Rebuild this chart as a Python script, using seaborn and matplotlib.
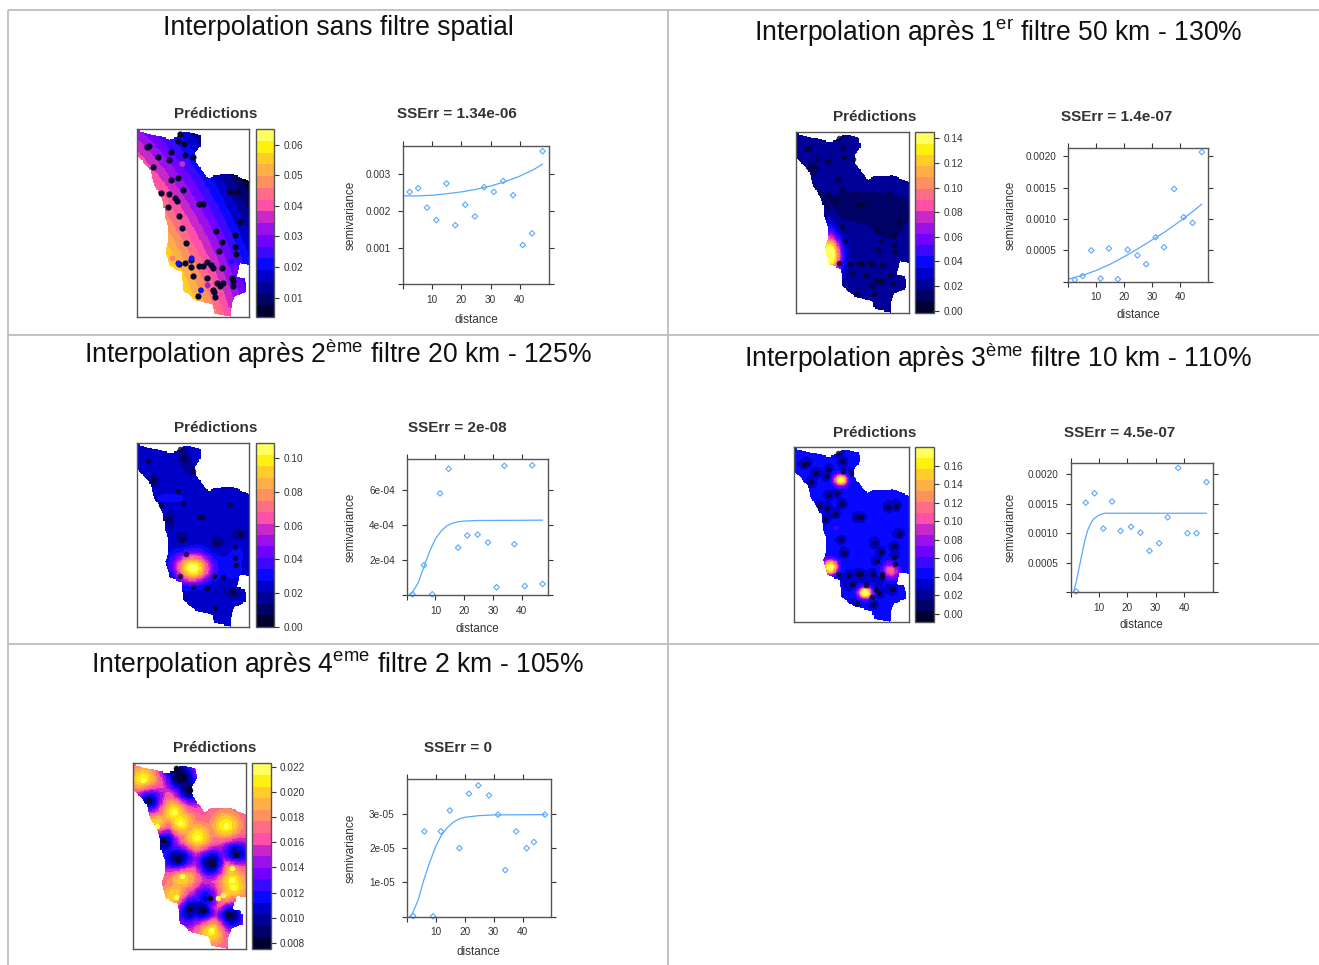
import matplotlib
matplotlib.use("Agg")
import matplotlib.pyplot as plt
import numpy as np
import pandas as pd
import seaborn as sns
from matplotlib.colors import ListedColormap
from matplotlib.path import Path as MplPath

sns.set_theme(style="white")
plt.rcParams["font.family"] = ["Liberation Sans", "DejaVu Sans"]
plt.rcParams["mathtext.fontset"] = "custom"
plt.rcParams["mathtext.rm"] = "Liberation Sans"
plt.rcParams["mathtext.it"] = "Liberation Sans"
plt.rcParams["mathtext.bf"] = "Liberation Sans:bold"

W, H = 1319, 965
INK = "#333333"
FRAME = "#555555"
BLUE = "#5aa8ff"

# ---- colour bands, bottom to top ----
band_colors = ["#00002e", "#000066", "#000098", "#0000c8", "#0808ff", "#3a08ff", "#7000ff", "#9a10ea",
               "#c828c8", "#ff50a8", "#ff6c88", "#ff9060", "#ffae48", "#ffcc28", "#fff010", "#ffff60"]
cmap = ListedColormap(band_colors)

# map outline, read in pixels of panel 1 (box 50-388 x 103-666 in a 3x crop)
outline = [(50, 103), (60, 108), (90, 118), (125, 125), (150, 133), (175, 125), (190, 110), (215, 112),
           (240, 120), (243, 150), (225, 175), (225, 195), (245, 225), (265, 250), (285, 240), (340, 238),
           (388, 258), (388, 510), (360, 505), (350, 545), (375, 550), (378, 590), (345, 605), (335, 625),
           (332, 665), (285, 655), (278, 630), (225, 615), (190, 585), (185, 530), (150, 515), (135, 465),
           (145, 440), (145, 395), (135, 370), (130, 320), (100, 265), (90, 225), (50, 180)]

# ---- titles ----
title_1 = "Interpolation sans filtre spatial"
title_2 = r"Interpolation après 1$^{\mathrm{er}}$ filtre 50 km - 130%"
title_3 = "Interpolation après 2$^{\\mathrm{ème}}$ filtre 20 km - 125%"
title_4 = "Interpolation après 3$^{\\mathrm{ème}}$ filtre 10 km - 110%"
title_5 = "Interpolation après 4$^{\\mathrm{eme}}$ filtre 2 km - 105%"

# ---- semivariogram points and fitted curves ----
dist_1 = [2.3, 5.2, 8.2, 11.4, 14.9, 17.9, 21.3, 24.6, 27.8, 31.1, 34.3, 37.7, 41.0, 44.2, 47.8]
sv_1 = [.00252, .00262, .00209, .00175, .00275, .00161, .00217, .00185, .00265, .00252, .00282, .00243, .00107, .00139, .00363]
fit_x_1 = [0, 5, 10, 15, 20, 25, 30, 35, 40, 45, 47.8]
fit_y_1 = [.00241, .00241, .00243, .00247, .00252, .00259, .00268, .00280, .00295, .00314, .00328]

dist_2 = [2.3, 5.1, 8.2, 11.5, 14.5, 17.7, 21.2, 24.7, 27.8, 31.2, 34.2, 37.8, 41.2, 44.4, 47.7]
sv_2 = [.00003, .00009, .0005, .00005, .00053, .00004, .00051, .00042, .00028, .00071, .00055, .00148, .00103, .00094, .00207]
fit_x_2 = [0, 5, 10, 15, 20, 25, 30, 35, 40, 45, 47.7]
fit_y_2 = [.00004, .0001, .00018, .00028, .0004, .00053, .00067, .00081, .00097, .00114, .00124]

dist_3 = [2.0, 6.0, 8.9, 11.6, 14.6, 17.9, 21.1, 24.7, 28.3, 31.3, 34.0, 37.5, 41.1, 43.7, 47.3]
sv_3 = [4e-6, 1.7e-4, 4e-6, 5.8e-4, 7.2e-4, 2.7e-4, 3.4e-4, 3.45e-4, 3.0e-4, 4.4e-5, 7.37e-4, 2.9e-4, 5.1e-5, 7.4e-4, 6.3e-5]
fit_x_3 = [1, 2, 4, 6, 8, 10, 12, 14, 16, 18, 20, 25, 47.3]
fit_y_3 = [0, 1.5e-5, 7e-5, 1.6e-4, 2.5e-4, 3.2e-4, 3.65e-4, 3.95e-4, 4.1e-4, 4.18e-4, 4.22e-4, 4.25e-4, 4.27e-4]

dist_4 = [1.9, 5.3, 8.4, 11.5, 14.6, 17.6, 21.3, 24.6, 27.8, 31.2, 34.2, 37.9, 41.2, 44.4, 47.9]
sv_4 = [.00001, .00152, .00168, .00108, .00154, .00104, .00111, .00101, .0007, .00083, .00127, .00211, .001, .001, .00187]
fit_x_4 = [1, 2, 3, 4, 5, 6, 7, 8, 10, 12, 47.9]
fit_y_4 = [0, .00018, .00042, .00065, .00088, .00105, .00116, .00124, .00131, .00134, .00134]

dist_5 = [2.2, 6.1, 9.1, 11.8, 14.9, 18.2, 21.5, 24.7, 28.4, 31.5, 34.0, 37.8, 41.4, 43.9, 47.7]
sv_5 = [2e-7, 2.49e-5, 1e-7, 2.49e-5, 3.1e-5, 2e-5, 3.59e-5, 3.83e-5, 3.54e-5, 2.98e-5, 1.36e-5, 2.49e-5, 2e-5, 2.18e-5, 2.98e-5]
fit_x_5 = [1, 2, 4, 6, 8, 10, 12, 14, 16, 18, 20, 25, 30, 47.7]
fit_y_5 = [0, 1e-6, 5e-6, 1.1e-5, 1.6e-5, 2.05e-5, 2.38e-5, 2.6e-5, 2.75e-5, 2.85e-5, 2.9e-5, 2.95e-5, 2.97e-5, 2.98e-5]

# ---- stations, in pixels of the 3x crop of each panel ----
stations_1 = [(180, 118), (175, 138), (192, 148), (80, 157), (88, 154), (114, 185), (154, 172), (147, 194), (194, 180),
              (220, 185), (100, 215), (175, 250), (154, 256), (190, 285), (124, 293), (147, 297), (165, 310), (170, 318),
              (143, 335), (238, 327), (248, 328), (329, 292), (352, 291), (176, 363), (360, 380), (187, 398), (289, 408),
              (345, 421), (197, 443), (306, 440), (345, 455), (296, 468), (348, 477), (178, 507), (195, 505), (212, 495),
              (214, 516), (238, 512), (248, 512), (260, 500), (272, 510), (280, 520), (305, 518), (220, 543), (260, 548),
              (335, 548), (340, 558), (340, 572), (290, 565), (300, 572), (310, 565), (280, 585), (282, 592), (234, 603), (284, 607)]
extra_1 = [(175, 505, "#1010ff"), (215, 490, "#1010ff"), (243, 586, "#1010ff"), (334, 500, "#1010ff"),
           (187, 207, "#c030c8"), (158, 490, "#ff8070"), (263, 571, "#a020d0")]
stations_2 = [(178, 113), (188, 140), (80, 148), (86, 145), (112, 177), (145, 184), (192, 170), (218, 177), (98, 206),
              (173, 238), (187, 271), (122, 280), (145, 284), (168, 302), (140, 320), (237, 313), (247, 315), (327, 279),
              (358, 365), (185, 380), (287, 391), (343, 404), (195, 424), (303, 422), (343, 436), (294, 449), (346, 457),
              (177, 488), (211, 493), (238, 490), (247, 492), (270, 490), (278, 495), (306, 495), (218, 520), (258, 525),
              (330, 525), (338, 548), (288, 540), (300, 545), (307, 540), (277, 558), (232, 578), (282, 582)]
stations_3 = [(180, 103), (192, 129), (85, 137), (220, 168), (100, 196), (175, 228), (190, 263), (123, 271), (143, 312),
              (240, 305), (247, 307), (329, 271), (360, 356), (187, 374), (289, 384), (345, 396), (197, 417), (345, 430),
              (348, 450), (180, 482), (282, 484), (308, 486), (220, 516), (260, 519), (338, 530), (284, 578)]
stations_4 = [(175, 98), (187, 124), (72, 132), (80, 128), (108, 160), (148, 148), (140, 168), (188, 153), (214, 159),
              (93, 186), (170, 220), (148, 226), (185, 252), (118, 259), (142, 263), (165, 281), (136, 298), (232, 291),
              (242, 292), (325, 260), (349, 257), (356, 341), (182, 357), (284, 368), (342, 379), (192, 399), (302, 397),
              (342, 410), (292, 423), (345, 431), (175, 461), (208, 466), (235, 463), (243, 463), (278, 462), (305, 463),
              (305, 472), (215, 492), (258, 495), (288, 510), (296, 520), (335, 507), (276, 530), (230, 548), (280, 552)]
stations_5 = [(167, 100), (181, 127), (209, 166), (86, 196), (129, 315), (174, 376), (278, 387), (347, 359),
              (270, 489), (207, 521), (250, 525), (328, 536)]
yellow_5 = [(70, 136), (161, 230), (111, 272), (179, 264), (232, 307), (318, 272), (185, 423), (168, 487),
            (335, 400), (335, 434), (338, 456), (295, 490), (310, 480), (273, 585)]

# ---- field readings: trend points for panel 1, bumps (x, y, amp, sx, sy) for the others ----
trend_1 = [(60, 115, .030), (60, 170, .037), (100, 215, .039), (180, 240, .032), (230, 200, .022), (210, 130, .018),
           (300, 260, .012), (380, 280, .008), (380, 400, .015), (380, 490, .022), (250, 330, .030), (150, 350, .043),
           (200, 450, .043), (300, 480, .031), (150, 470, .056), (190, 560, .056), (240, 600, .050), (320, 650, .040),
           (370, 570, .028)]
base_2 = .023
bumps_2 = [(150, 465, .135, 22, 36), (110, 465, .02, 30, 60), (240, 320, -.010, 170, 45), (330, 400, -.006, 45, 40),
           (98, 206, -.010, 18, 18), (240, 520, -.006, 22, 15), (150, 390, .012, 14, 40)]
base_3 = .0245
bumps_3 = [(218, 460, .086, 36, 30), (150, 250, .007, 30, 10), (350, 415, .007, 14, 14), (335, 460, .008, 22, 24),
           (100, 196, -.0065, 22, 22), (190, 125, -.0065, 20, 26), (215, 165, -.0065, 16, 16), (150, 310, -.0065, 15, 26),
           (187, 374, -.0065, 24, 24), (289, 384, -.0065, 24, 22), (360, 356, -.0065, 24, 18), (240, 510, -.0065, 50, 20),
           (340, 535, -.0065, 24, 16), (160, 480, -.0065, 22, 12)]
base_4 = .045
bumps_4 = [(182, 180, .15, 13, 12), (152, 442, .17, 14, 14), (256, 518, .17, 14, 12), (332, 452, .075, 17, 16),
           (170, 325, .008, 14, 14), (240, 495, -.005, 60, 22)]
halo_4 = -.012
base_5 = .0165
halo_5 = -.0072
glow_5 = .0050
bumps_5 = [(240, 370, -.0016, 130, 28), (240, 500, -.0015, 45, 28), (190, 130, -.002, 35, 40), (200, 570, -.0015, 35, 22),
           (350, 570, -.002, 30, 30), (130, 340, -.001, 22, 35)]

# ---- layout in reference pixels: map, colour bar, variogram boxes ----
panels = [
    dict(title=title_1, tx=338, ty=28, map_box=(136.7, 129.3, 249.3, 317), cbar_x=(255.7, 274.3), var_box=(403, 145.7, 549, 284.3),
         head_map=(216, 114), head_var=(457, 114), sse="SSErr = 1.34e-06", lim=(.0037, .065), ticks=[.01, .02, .03, .04, .05, .06], fmt="%.2f",
         ylim=(0, .00378), yticks=[0, .001, .002, .003], yfmt=["", "0.001", "0.002", "0.003"], xlim=(0, 50), xlab_y=320, ylab_x=351,
         crop=(50, 103, 388, 666), dist=dist_1, sv=sv_1, fx=fit_x_1, fy=fit_y_1, pts=stations_1),
    dict(title=title_2, tx=998, ty=33, map_box=(795.7, 132.3, 909.3, 312.7), cbar_x=(915, 934), var_box=(1068.3, 148.3, 1208.3, 281.7),
         head_map=(875, 117), head_var=(1117, 117), sse="SSErr = 1.4e-07", lim=(-.0016, .1448), ticks=[0, .02, .04, .06, .08, .10, .12, .14], fmt="%.2f",
         ylim=(0, .00213), yticks=[0, .0005, .001, .0015, .002], yfmt=["", "0.0005", "0.0010", "0.0015", "0.0020"], xlim=(0, 50), xlab_y=315, ylab_x=1011,
         crop=(47, 97, 388, 638), dist=dist_2, sv=sv_2, fx=fit_x_2, fy=fit_y_2, pts=stations_2),
    dict(title=title_3, tx=338, ty=354, map_box=(136.7, 443.3, 249.3, 626.7), cbar_x=(255.7, 274.3), var_box=(406.7, 459, 548.3, 595),
         head_map=(216, 428), head_var=(457, 428), sse="SSErr = 2e-08", lim=(0, .1089), ticks=[0, .02, .04, .06, .08, .10], fmt="%.2f",
         ylim=(0, 7.76e-4), yticks=[0, 2e-4, 4e-4, 6e-4], yfmt=["", "2e-04", "4e-04", "6e-04"], xlim=(0, 49.3), xlab_y=629, ylab_x=351,
         crop=(50, 85, 388, 635), dist=dist_3, sv=sv_3, fx=fit_x_3, fy=fit_y_3, pts=stations_3),
    dict(title=title_4, tx=998, ty=358, map_box=(794, 447.3, 909.3, 622.3), cbar_x=(915.3, 934), var_box=(1070.7, 462.7, 1212.7, 592),
         head_map=(875, 433), head_var=(1120, 433), sse="SSErr = 4.5e-07", lim=(-.0094, .18), ticks=[0, .02, .04, .06, .08, .10, .12, .14, .16], fmt="%.2f",
         ylim=(0, .0022), yticks=[0, .0005, .001, .0015, .002], yfmt=["", "0.0005", "0.0010", "0.0015", "0.0020"], xlim=(0, 50.1), xlab_y=625, ylab_x=1011,
         crop=(42, 82, 388, 607), dist=dist_4, sv=sv_4, fx=fit_x_4, fy=fit_y_4, pts=stations_4),
    dict(title=title_5, tx=338, ty=664, map_box=(132.7, 763.3, 246, 949), cbar_x=(252, 270.7), var_box=(406.7, 779.3, 550.7, 916.7),
         head_map=(215, 748), head_var=(458, 748), sse="SSErr = 0", lim=(.0075, .0223), ticks=[.008, .01, .012, .014, .016, .018, .02, .022], fmt="%.3f",
         ylim=(0, 4.01e-5), yticks=[0, 1e-5, 2e-5, 3e-5], yfmt=["", "1e-05", "2e-05", "3e-05"], xlim=(0, 49.7), xlab_y=952, ylab_x=351,
         crop=(38, 85, 378, 642), dist=dist_5, sv=sv_5, fx=fit_x_5, fy=fit_y_5, pts=stations_5),
]


def make_ax(fig, box):
    x0, y0, x1, y1 = box
    return fig.add_axes([x0 / W, 1 - y1 / H, (x1 - x0) / W, (y1 - y0) / H])


def gauss(X, Y, cx, cy, amp, sx, sy):
    return amp * np.exp(-0.5 * (((X - cx) / sx) ** 2 + ((Y - cy) / sy) ** 2))


def add_bumps(Z, X, Y, bumps):
    for cx, cy, amp, sx, sy in bumps:
        Z = Z + gauss(X, Y, cx, cy, amp, sx, sy)
    return Z


def make_field(i, X, Y, pts):
    # X and Y are in crop pixels of the panel
    if i == 0:
        t = np.array(trend_1)
        xs, ys = t[:, 0] / 400, t[:, 1] / 600
        A = np.c_[np.ones(len(t)), xs, ys, xs ** 2, xs * ys, ys ** 2]
        c = np.linalg.lstsq(A, t[:, 2], rcond=None)[0]
        u, v = X / 400, Y / 600
        return c[0] + c[1] * u + c[2] * v + c[3] * u ** 2 + c[4] * u * v + c[5] * v ** 2
    if i == 1:
        return add_bumps(np.full(X.shape, base_2), X, Y, bumps_2)
    if i == 2:
        return add_bumps(np.full(X.shape, base_3), X, Y, bumps_3)
    if i == 3:
        halo = np.zeros(X.shape)
        for p in pts:
            halo = np.minimum(halo, gauss(X, Y, p[0], p[1], halo_4, 18, 18))
        return add_bumps(base_4 + halo, X, Y, bumps_4)
    low = np.zeros(X.shape)
    for p in pts:
        low = np.minimum(low, gauss(X, Y, p[0], p[1], halo_5, 28, 28))
    high = np.zeros(X.shape)
    for p in yellow_5:
        high = np.maximum(high, gauss(X, Y, p[0], p[1], glow_5, 30, 30))
    return add_bumps(base_5 + low + high, X, Y, bumps_5)


fig = plt.figure(figsize=(W / 100, H / 100), dpi=100)

# table rules
rule = fig.add_axes([0, 0, 1, 1])
rule.set_xlim(0, W)
rule.set_ylim(H, 0)
rule.axis("off")
for xs, ys in [((8, 1319), (10, 10)), ((8, 8), (10, 965)), ((668, 668), (10, 965)),
               ((8, 1319), (335, 335)), ((8, 1319), (644, 644))]:
    rule.plot(xs, ys, color="#bdbdbd", lw=1.3, solid_capstyle="butt")

outline_arr = np.array(outline, dtype=float)
outline_u = (outline_arr[:, 0] - 50) / 338
outline_v = (outline_arr[:, 1] - 103) / 563
poly = MplPath(np.c_[outline_u, outline_v])

for i, p in enumerate(panels):
    fig.text(p["tx"] / W, 1 - p["ty"] / H, p["title"], fontsize=19.1, ha="center", va="center", color="#111111")
    fig.text(p["head_map"][0] / W, 1 - p["head_map"][1] / H, "Prédictions", fontsize=11, fontweight="bold", ha="center", va="center", color=INK)
    fig.text(p["head_var"][0] / W, 1 - p["head_var"][1] / H, p["sse"], fontsize=11, fontweight="bold", ha="center", va="center", color=INK)

    # map
    mb = p["map_box"]
    ax = make_ax(fig, mb)
    cax = make_ax(fig, (p["cbar_x"][0], mb[1], p["cbar_x"][1], mb[3]))
    nx, ny = int((mb[2] - mb[0]) / 1.15), int((mb[3] - mb[1]) / 1.15)
    uu, vv = np.meshgrid((np.arange(nx) + .5) / nx, (np.arange(ny) + .5) / ny)
    c0, c1, c2, c3 = p["crop"]
    X, Y = c0 + uu * (c2 - c0), c1 + vv * (c3 - c1)
    Z = make_field(i, X, Y, p["pts"])
    inside = poly.contains_points(np.c_[uu.ravel(), vv.ravel()]).reshape(uu.shape)
    sns.heatmap(Z, mask=~inside, cmap=cmap, vmin=p["lim"][0], vmax=p["lim"][1], ax=ax, cbar_ax=cax,
                xticklabels=False, yticklabels=False, cbar_kws={"ticks": p["ticks"]})
    pts = pd.DataFrame(p["pts"], columns=["x", "y"])
    pts["x"] = (pts["x"] - c0) / (c2 - c0) * nx
    pts["y"] = (pts["y"] - c1) / (c3 - c1) * ny
    dot_alpha = 1 if i in (0, 4) else 0.8
    sns.scatterplot(data=pts, x="x", y="y", ax=ax, s=20 if i == 0 else 16, color="#05052e", linewidth=0, legend=False, alpha=dot_alpha)
    if i == 0:
        ex = pd.DataFrame(extra_1, columns=["x", "y", "c"])
        ax.scatter((ex["x"] - c0) / (c2 - c0) * nx, (ex["y"] - c1) / (c3 - c1) * ny, s=18, c=ex["c"], linewidths=0)
    if i == 4:
        ye = pd.DataFrame(yellow_5, columns=["x", "y"])
        ye["x"] = (ye["x"] - c0) / (c2 - c0) * nx
        ye["y"] = (ye["y"] - c1) / (c3 - c1) * ny
        sns.scatterplot(data=ye, x="x", y="y", ax=ax, s=16, color="#ffff50", linewidth=0, legend=False)
    ax.set_xlim(0, nx)
    ax.set_ylim(ny, 0)
    ax.set_xlabel("")
    ax.set_ylabel("")
    for s in ax.spines.values():
        s.set_visible(True)
        s.set_color(FRAME)
        s.set_linewidth(1.0)

    # colour bar
    cb = ax.collections[0].colorbar
    cb.outline.set_edgecolor(FRAME)
    cb.outline.set_linewidth(1.0)
    cax.yaxis.set_ticks_position("right")
    cax.tick_params(axis="y", which="both", direction="out", length=3.6, width=.8, color=INK, labelsize=7.2, labelcolor=INK, pad=3)
    cax.minorticks_off()
    cax.set_yticks(p["ticks"])
    cax.set_yticklabels([p["fmt"] % t for t in p["ticks"]])

    # variogram
    vax = make_ax(fig, p["var_box"])
    df = pd.DataFrame({"distance": p["dist"], "semivariance": p["sv"]})
    fit = pd.DataFrame({"distance": p["fx"], "semivariance": p["fy"]})
    sns.lineplot(data=fit, x="distance", y="semivariance", ax=vax, color=BLUE, lw=.9, estimator=None)
    sns.scatterplot(data=df, x="distance", y="semivariance", ax=vax, marker="D", s=8, facecolor="none", edgecolor=BLUE, linewidth=.8, legend=False, clip_on=False)
    vax.set_xlim(*p["xlim"])
    vax.set_ylim(*p["ylim"])
    vax.set_xticks([0, 10, 20, 30, 40])
    vax.set_xticklabels(["", "10", "20", "30", "40"])
    vax.set_yticks(p["yticks"])
    vax.set_yticklabels(p["yfmt"])
    vax.tick_params(axis="both", direction="out", length=3.6, width=.8, color=INK, labelsize=7.2, labelcolor=INK,
                    top=True, right=True, bottom=True, left=True)
    vax.tick_params(axis="y", pad=5)
    vax.tick_params(axis="x", pad=4)
    vax.set_xlabel("")
    vax.set_ylabel("")
    for s in vax.spines.values():
        s.set_visible(True)
        s.set_color(FRAME)
        s.set_linewidth(1.0)
    bx = p["var_box"]
    fig.text((bx[0] + bx[2]) / 2 / W, 1 - p["xlab_y"] / H, "distance", fontsize=8.5, ha="center", va="center", color=INK)
    fig.text(p["ylab_x"] / W, 1 - (bx[1] + bx[3]) / 2 / H, "semivariance", fontsize=8.5, rotation=90, ha="center", va="center", color=INK)

fig.savefig("out.png", dpi=100)
